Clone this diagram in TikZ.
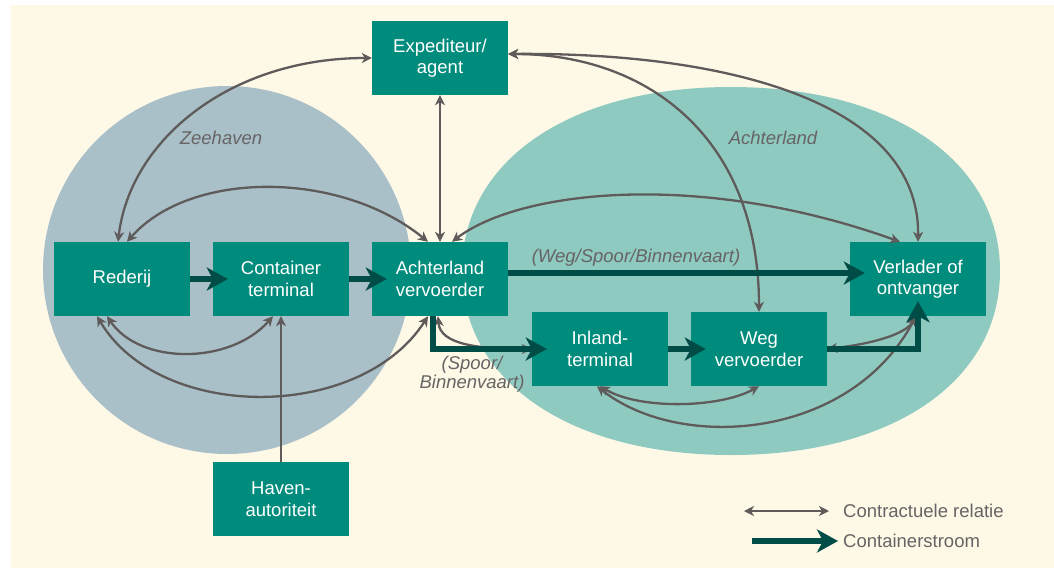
\documentclass[tikz,border=0pt]{standalone}
\usepackage{fontspec}
\setmainfont{Liberation Sans}
\usetikzlibrary{arrows.meta}

\definecolor{achtergrond}{HTML}{FEF8E7}
\definecolor{zeehavenkleur}{HTML}{A9C0C8}
\definecolor{achterlandkleur}{HTML}{8FCAC1}
\definecolor{blokkleur}{HTML}{008C7D}
\definecolor{stroomkleur}{HTML}{004D47}
\definecolor{relatiekleur}{HTML}{5F5B5A}
\definecolor{tekstkleur}{HTML}{666464}

\tikzset{
	blok/.style={fill=blokkleur, text=white, minimum width=136pt, minimum height=74pt, inner sep=0pt, align=center, font=\fontsize{18.5}{21.5}\selectfont},
	gebied/.style={text=tekstkleur, align=center, font=\fontsize{18.5}{19.5}\selectfont\itshape},
	legenda/.style={text=tekstkleur, anchor=west, inner sep=0pt, font=\fontsize{18.5}{21.5}\selectfont},
	relatie/.style={draw=relatiekleur, line width=2.3pt, >={Stealth[length=10pt,width=10pt,inset=3pt]}, <->},
	stroom/.style={draw=stroomkleur, line width=6pt, -{Stealth[length=21pt,width=23pt,inset=6pt]}, shorten >=-15pt}
}

\begin{document}
\begin{tikzpicture}[x=1pt, y=-1pt]
			%%%%% START %%%%%
			\useasboundingbox (0, 0) rectangle (1054, 568);
			\fill[achtergrond] (11, 5) rectangle (1054, 568);
			
			\fill[zeehavenkleur] (227, 270) circle (184);
			\fill[achterlandkleur] (1000, 271) .. controls (1000, 381.4) and (892.4, 455) .. (731, 455)
				.. controls (569.6, 455) and (462, 381.4) .. (462, 271)
				.. controls (462, 160.6) and (569.6, 87) .. (731, 87)
				.. controls (892.4, 87) and (1000, 160.6) .. (1000, 271) -- cycle;
			
			\node[gebied] (zeeh) at (221, 138) {Zeehaven};
			\node[gebied] (achtl) at (773, 138) {Achterland};
			
			\node[blok] (expd) at (440, 58) {Expediteur/\\agent};
			\node[blok] (reder) at (122, 279) {Rederij};
			\node[blok] (cterm) at (281, 279) {Container\\terminal};
			\node[blok] (achv) at (440, 279) {Achterland\\vervoerder};
			\node[blok] (verl) at (918, 279) {Verlader of\\ontvanger};
			\node[blok] (inl) at (600, 349) {Inland-\\terminal};
			\node[blok] (weg) at (759, 349) {Weg\\vervoerder};
			\node[blok] (haven) at (281, 499) {Haven-\\autoriteit};
			
			\node[gebied] (modus1) at (636, 258) {(Weg/Spoor/Binnenvaart)};
			\node[gebied] (modus2) at (472, 374) {(Spoor/\\Binnenvaart)};
			
			% contractuele relaties
			\draw[relatie] (expd.west) .. controls (230, 58) and (130, 140) .. ([xshift=-4pt]reder.north);
			\draw[relatie] (expd) -- (achv);
			\draw[relatie] ([yshift=4pt]expd.east) .. controls (720, 52) and (920, 100) .. (verl.north);
			\draw[relatie] ([yshift=4pt]expd.east) .. controls (650, 54) and (759, 140) .. (weg.north);
			\draw[relatie] ([xshift=5pt]reder.north) .. controls (190, 170) and (340, 170) .. ([xshift=-12pt]achv.north);
			\draw[relatie] ([xshift=12pt]achv.north) .. controls (520, 190) and (700, 170) .. ([xshift=-18pt]verl.north);
			\draw[relatie] ([xshift=-15pt]reder.south) .. controls (140, 365) and (230, 365) .. ([xshift=-8pt]cterm.south);
			\draw[relatie] ([xshift=-25pt]reder.south) .. controls (160, 422) and (360, 422) .. ([xshift=-12pt]achv.south);
			\draw[relatie, ->] (haven) -- (cterm);
			\draw[relatie] ([xshift=-2pt]achv.south) .. controls (440, 345) and (480, 349) .. (inl.west);
			\draw[relatie] (inl.south) .. controls (640, 410) and (720, 408) .. (weg.south);
			\draw[relatie] ([xshift=-3pt]inl.south) .. controls (680, 452) and (850, 440) .. ([xshift=-2pt]verl.south);
			\draw[relatie] (weg.east) .. controls (870, 344) and (905, 335) .. ([xshift=-2pt]verl.south);
			
			% containerstroom
			\draw[stroom] (reder) -- (cterm);
			\draw[stroom] (cterm) -- (achv);
			\draw[stroom] ([yshift=6pt]achv.east) -- ([yshift=6pt]verl.west);
			\draw[stroom] ([xshift=-7pt]achv.south) |- (inl.west);
			\draw[stroom] (inl) -- (weg);
			\draw[stroom] (weg.east) -| (verl.south);
			
			% legenda
			\coordinate (rel1) at (744, 511);
			\coordinate (rel2) at (829, 511);
			\coordinate (str1) at (752, 541);
			\coordinate (str2) at (838, 541);
			\draw[relatie] (rel1) -- (rel2);
			\draw[stroom, shorten >=0pt] (str1) -- (str2);
			\node[legenda] (lrel) at (843, 511) {Contractuele relatie};
			\node[legenda] (lstr) at (843, 541) {Containerstroom};
			
			%%%%% END %%%%%
\end{tikzpicture}
\end{document}
